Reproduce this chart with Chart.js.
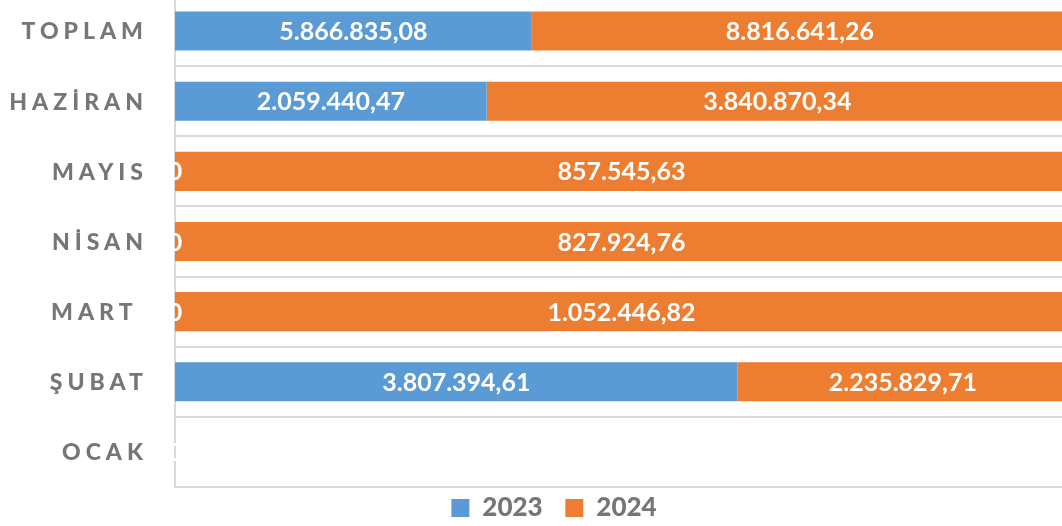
<!DOCTYPE html>
<html>
<head>
<meta charset="utf-8">
<script src="https://cdn.jsdelivr.net/npm/chart.js@4"></script>
<style>
  html, body { margin: 0; padding: 0; background: #fff; overflow: hidden; }
  #wrap { position: absolute; left: 0; top: -10px; width: 1080px; height: 546px; }
</style>
</head>
<body>
<div id="wrap"><canvas id="chart" width="1080" height="546"></canvas></div>
<script>
var categories = ['TOPLAM', 'HAZİRAN', 'MAYIS', 'NİSAN', 'MART ', 'ŞUBAT', 'OCAK'];
var values2023 = [5866835.08, 2059440.47, 0, 0, 0, 3807394.61, 0];
var values2024 = [8816641.26, 3840870.34, 857545.63, 827924.76, 1052446.82, 2235829.71, 0];
var seriesNames = ['2023', '2024'];

var BLUE = '#5b9bd5', ORANGE = '#ed7d31', GREY = '#767676', GRID = '#d9d9d9';

// 100% stacked: share of each row
var totals = values2023.map(function (v, i) { return v + values2024[i]; });
function pct(arr) {
    return arr.map(function (v, i) { return totals[i] ? v / totals[i] * 100 : 0; });
}

function fmt(v) {
    if (!v) return '0';
    var parts = v.toFixed(2).split('.');
    return parts[0].replace(/\B(?=(\d{3})+(?!\d))/g, '.') + ',' + parts[1];
}

var rawValues = [values2023, values2024];

var labelPlugin = {
    id: 'labels',
    afterDatasetsDraw: function (chart) {
        var ctx = chart.ctx;
        ctx.save();
        ctx.fillStyle = '#ffffff';
        ctx.font = 'bold 25px Lato';
        ctx.textAlign = 'center';
        ctx.textBaseline = 'middle';
        chart.data.datasets.forEach(function (ds, di) {
            chart.getDatasetMeta(di).data.forEach(function (el, i) {
                ctx.fillText(fmt(rawValues[di][i]), (el.x + el.base) / 2, el.y + 1);
            });
        });
        ctx.restore();

        // category labels with letter spacing
        var y = chart.scales.y;
        ctx.save();
        ctx.fillStyle = GREY;
        ctx.font = '900 23px Lato';
        ctx.letterSpacing = '5px';
        ctx.textAlign = 'right';
        ctx.textBaseline = 'middle';
        categories.forEach(function (c, i) {
            ctx.fillText(c, 148, y.getPixelForValue(i) + 1);
        });
        ctx.restore();
    }
};

new Chart(document.getElementById('chart').getContext('2d'), {
    type: 'bar',
    data: {
        labels: categories,
        datasets: [{
            label: seriesNames[0],
            data: pct(values2023),
            backgroundColor: BLUE,
            categoryPercentage: 1,
            barPercentage: 0.557
        }, {
            label: seriesNames[1],
            data: pct(values2024),
            backgroundColor: ORANGE,
            categoryPercentage: 1,
            barPercentage: 0.557
        }]
    },
    options: {
        indexAxis: 'y',
        responsive: false,
        animation: false,
        layout: { padding: { top: 6, right: 12, left: 40, bottom: 5 } },
        plugins: {
            tooltip: { enabled: false },
            legend: {
                position: 'bottom',
                labels: {
                    color: GREY,
                    font: { family: 'Lato', size: 26, weight: '900' },
                    boxWidth: 18,
                    boxHeight: 18,
                    padding: 8,
                    generateLabels: function (chart) {
                        var items = Chart.defaults.plugins.legend.labels.generateLabels(chart);
                        // wider gap after the first entry
                        items[0].text = items[0].text + '\u2002\u200A';
                        return items;
                    }
                }
            }
        },
        scales: {
            x: {
                stacked: true,
                min: 0,
                max: 100,
                display: false
            },
            y: {
                stacked: true,
                afterFit: function (scale) { scale.width = 135; },
                ticks: { display: false },
                grid: { offset: true, color: GRID, lineWidth: 2, drawTicks: false },
                border: { display: true, color: GRID, width: 2 }
            }
        }
    },
    plugins: [labelPlugin]
});
</script>
</body>
</html>
